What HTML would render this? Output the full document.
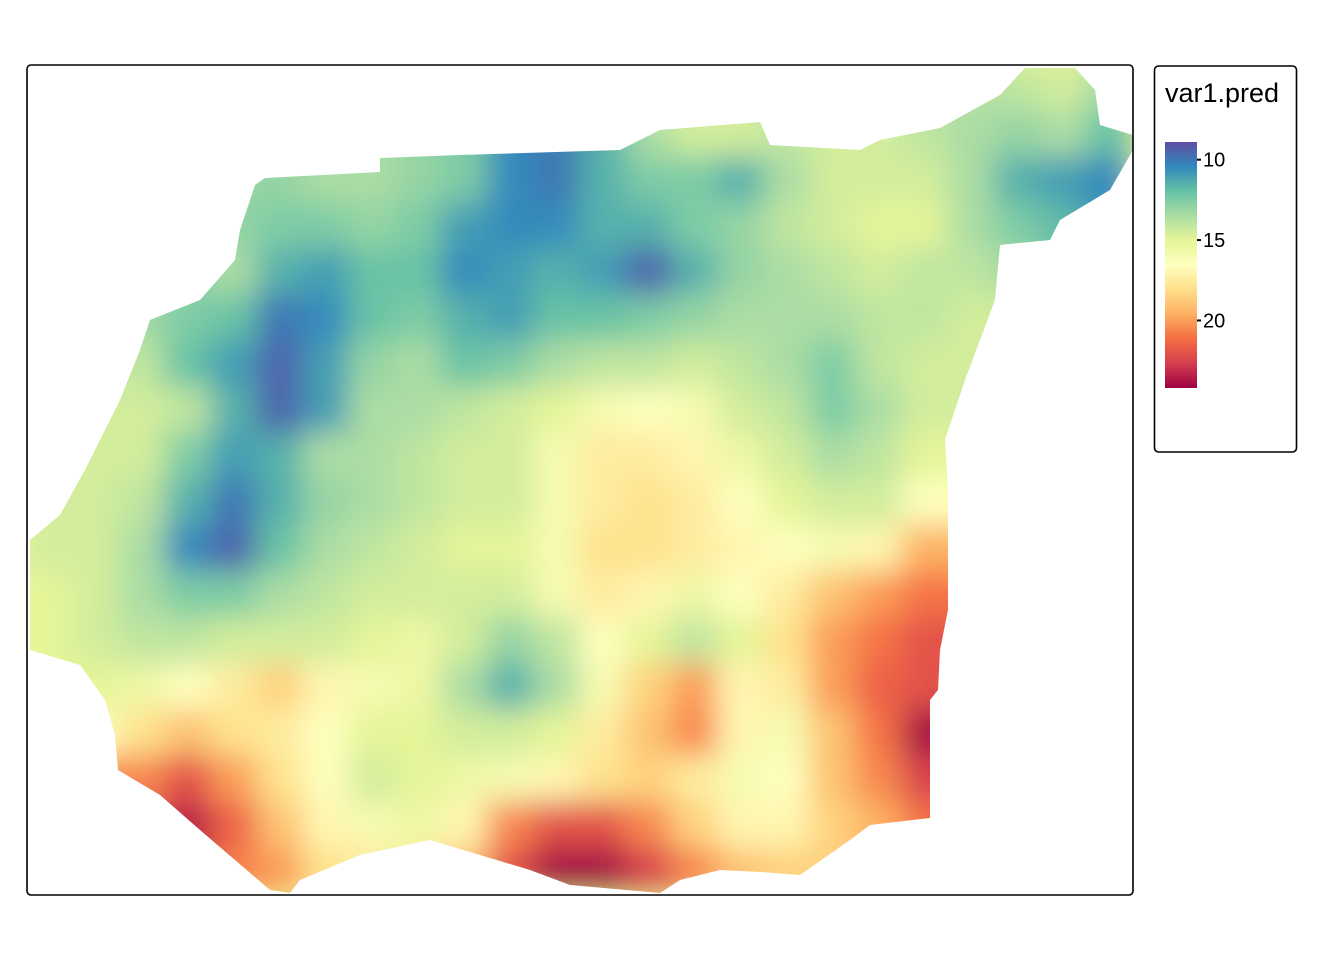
<!DOCTYPE html>
<html><head><meta charset="utf-8"><style>
html,body{margin:0;padding:0;background:#fff;}
svg{display:block;font-family:"Liberation Sans",Arial,sans-serif;}
</style></head><body>
<svg id="chart" width="1344" height="960" viewBox="0 0 1344 960">
<defs>
<filter id="blur" x="-10%" y="-10%" width="120%" height="120%"><feGaussianBlur stdDeviation="15"/></filter>
<clipPath id="shape"><polygon id="shapePoly" points="240,230 255,185 265,178 380,172 380,158 460,155 620,150 660,130 760,122 770,145 860,150 880,140 940,128 1000,95 1025,68 1075,68 1095,90 1100,125 1133,135 1133,150 1110,190 1060,220 1050,240 1000,245 995,300 965,380 945,440 948,490 948,610 940,650 938,690 930,700 930,818 870,825 850,840 800,875 760,872 720,870 680,880 660,893 570,885 530,870 480,855 430,840 360,855 300,880 290,893 270,890 200,830 160,795 118,770 115,735 105,700 80,665 30,650 30,540 60,515 85,470 120,400 140,350 150,320 200,300 235,260"/></clipPath>
<linearGradient id="legendGrad" x1="0" y1="0" x2="0" y2="1"></linearGradient>
</defs>
<g clip-path="url(#shape)"><g id="cells" filter="url(#blur)"></g></g>
<rect x="27" y="65" width="1106" height="830" rx="4" fill="none" stroke="#000" stroke-width="1.6"/>
<g>
<rect x="1154.5" y="66" width="142" height="386" rx="4" fill="#fff" stroke="#000" stroke-width="1.6"/>
<text x="1165" y="102" font-size="27">var1.pred</text>
<rect x="1165" y="142" width="32" height="246" fill="url(#legendGrad)"/>
<g id="legendTicks"></g>
</g>
</svg>
<script>
// Grid categories (column / row indices) and predicted values (null = outside area)
const colIndex = [0,1,2,3,4,5,6,7,8,9,10,11,12,13,14,15,16,17,18,19,20,21,22,23];
const rowIndex = [0,1,2,3,4,5,6,7,8,9,10,11,12,13,14,15,16,17];
const N = null;
const row0  = [N,N,N,N,N,N,N,N,N,N,N,N,N,N,N,N,N,N,N,N,N,14,14.5,N];
const row1  = [N,N,N,N,N,N,N,N,N,N,N,N,N,N,14.5,14.5,N,N,14.5,14,13.5,13,13.5,12];
const row2  = [N,N,N,N,N,N,13.5,13.5,13,12.5,10.5,10,11.5,12.5,12.5,11.5,13.5,14.5,14.5,14.5,13.5,11.5,11,10.5];
const row3  = [N,N,N,N,N,12.5,12.5,13,12.5,11,10.5,10.5,11.5,11.5,12.5,13,14,14.5,15,15,13.5,12.5,N,N];
const row4  = [N,N,N,N,13.5,11.5,11,12,12,10.5,11,11.5,11,9.5,11.5,13,13.5,14,14.5,14,14,N,N,N];
const row5  = [N,N,N,12.5,12,10,10.5,12,12.5,11.5,11,12,12,12.5,13,13.5,13.5,13.5,14,14,14.5,N,N,N];
const row6  = [N,N,14,12,11,9.5,11,13,13.5,12,12.5,13.5,14,14,14.5,14,13.5,12.5,14,14.5,N,N,N,N];
const row7  = [N,N,14.5,14,11.5,9.5,11,13.5,13.5,14,14.5,15,16,16.5,16,14.5,14,12.5,13.5,14.5,N,N,N,N];
const row8  = [N,14.5,14.5,12.5,11,11.5,13.5,13.5,14,14.5,14.5,16,17.5,17.5,17,15.5,14.5,13.5,14,15,N,N,N,N];
const row9  = [N,14.5,14,11.5,10,11.5,13,13.5,14,14.5,14.5,16,17.5,18,17.5,16.5,15,14.5,14.5,16.5,N,N,N,N];
const row10 = [14.5,14.5,13.5,10.5,9.5,12,13.5,14,14.5,15,15,16,18,18,17.5,17,16.5,16,17,19.5,N,N,N,N];
const row11 = [15,14.5,13.5,12.5,12.5,13.5,14,14.5,14.5,14.5,14.5,16,17.5,17,15.5,16.5,17.5,19,20,21,N,N,N,N];
const row12 = [15,14.5,14,14,14.5,14.5,14.5,15,15.5,14.5,13,14,16.5,15,14,15,18,20,21,22,N,N,N,N];
const row13 = [N,15,15.5,16.5,17.5,18.5,17,16,15.5,13.5,11.5,13.5,16,18.5,20,17,17.5,20,21.5,22,N,N,N,N];
const row14 = [N,N,18,19,18,17.5,16.5,15,15,14.5,14.5,15,17.5,19,20.5,17,16,19,21,24,N,N,N,N];
const row15 = [N,N,20.5,22,20,18,16.5,14.5,15,15.5,16,17,18,18.5,17.5,16,16.5,19,20.5,22.5,N,N,N,N];
const row16 = [N,N,N,23.5,21.5,19,17,16,15.5,17,20.5,22,22,20.5,18.5,17,17,18.5,19.5,N,N,N,N,N];
const row17 = [N,N,N,N,N,20,18,17.5,17.5,19,22,24,24,22.5,20.5,19,18.5,N,N,N,N,N,N,N];
const gridValues = [row0,row1,row2,row3,row4,row5,row6,row7,row8,row9,row10,row11,row12,row13,row14,row15,row16,row17];
const legendTicks = [10,15,20];
const legendLabels = ["10","15","20"];

const spectral = ["#5E4FA2","#3288BD","#66C2A5","#ABDDA4","#E6F598","#FFFFBF","#FEE08B","#FDAE61","#F46D43","#D53E4F","#9E0142"];
const vMin = 8.9, vMax = 24.2;
function hex(c){return [parseInt(c.slice(1,3),16),parseInt(c.slice(3,5),16),parseInt(c.slice(5,7),16)];}
function color(v){
  let t = Math.max(0,Math.min(1,(v-vMin)/(vMax-vMin)))*(spectral.length-1);
  let i = Math.min(Math.floor(t),spectral.length-2), f = t-i;
  const a=hex(spectral[i]), b=hex(spectral[i+1]);
  return "rgb("+a.map((x,k)=>Math.round(x+(b[k]-x)*f)).join(",")+")";
}
const x0=27, y0=65, cw=1106/colIndex.length, ch=830/rowIndex.length;
function xPos(c){return x0+c*cw;}
function yPos(r){return y0+r*ch;}
function yLegend(v){return 142+(v-vMin)/(vMax-vMin)*246;}

let filled = gridValues.map(r=>r.slice());
for(let it=0;it<30;it++){
  let nxt = filled.map(r=>r.slice());
  for(let r=0;r<filled.length;r++)for(let c=0;c<filled[r].length;c++){
    if(filled[r][c]!==null) continue;
    let s=0,n=0;
    [[1,0],[-1,0],[0,1],[0,-1]].forEach(d=>{const rr=r+d[0],cc=c+d[1];
      if(rr>=0&&rr<filled.length&&cc>=0&&cc<filled[r].length&&filled[rr][cc]!==null){s+=filled[rr][cc];n++;}});
    if(n) nxt[r][c]=s/n;
  }
  filled=nxt;
}
const ns="http://www.w3.org/2000/svg";
const g=document.getElementById("cells");
const bg=document.createElementNS(ns,"rect");


bg.setAttribute("x",0);bg.setAttribute("y",0);bg.setAttribute("width",1344);bg.setAttribute("height",960);bg.setAttribute("fill",color(15));
g.appendChild(bg);
rowIndex.forEach(r=>{colIndex.forEach(c=>{
  const v=filled[r][c]; if(v===null) return;
  const el=document.createElementNS(ns,"rect");
  
  
  el.setAttribute("x",xPos(c)-1);el.setAttribute("y",yPos(r)-1);
  el.setAttribute("width",cw+2);el.setAttribute("height",ch+2);
  el.setAttribute("fill",color(v));
  g.appendChild(el);
});});

const grad=document.getElementById("legendGrad");
spectral.forEach((s,i)=>{const st=document.createElementNS(ns,"stop");
  st.setAttribute("offset",(i/(spectral.length-1)));st.setAttribute("stop-color",s);grad.appendChild(st);});
const lt=document.getElementById("legendTicks");
legendTicks.forEach((v,i)=>{
  const y=yLegend(v);
  const ln=document.createElementNS(ns,"line");
  
  
  ln.setAttribute("x1",1197);ln.setAttribute("x2",1201);ln.setAttribute("y1",y);ln.setAttribute("y2",y);
  ln.setAttribute("stroke","#000");ln.setAttribute("stroke-width","2");lt.appendChild(ln);
  const t=document.createElementNS(ns,"text");
  
  
  t.setAttribute("x",1203);t.setAttribute("y",y+7);t.setAttribute("font-size","20");
  t.textContent=legendLabels[i];lt.appendChild(t);
});
</script>
</body></html>
